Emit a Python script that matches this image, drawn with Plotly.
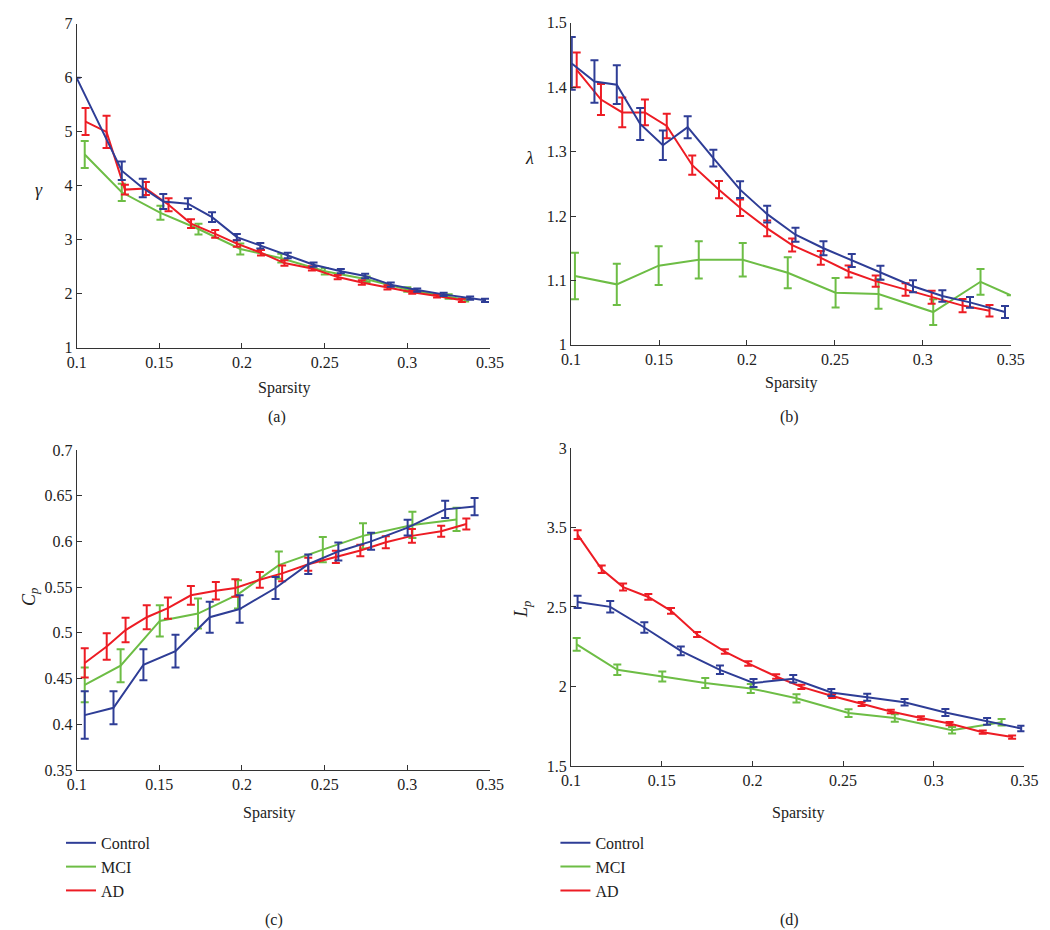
import plotly.graph_objects as go

W, H = 1050, 930
FONT = "Liberation Serif"
BLUE = "#2e3d96"
GREEN = "#6dbd45"
RED = "#ed1c24"

# ---------------- Panel (a): gamma ----------------
a_ctrl_x = [0.100, 0.1273, 0.1400, 0.1524, 0.1673, 0.1819, 0.1969, 0.2111, 0.2277, 0.2433, 0.2598, 0.2745, 0.290, 0.306, 0.322, 0.338, 0.347]
a_ctrl_y = [6.00, 4.28, 3.96, 3.71, 3.67, 3.42, 3.05, 2.89, 2.71, 2.54, 2.42, 2.33, 2.17, 2.07, 1.99, 1.92, 1.88]
a_ctrl_e = [None, 0.17, 0.17, 0.14, 0.10, 0.09, 0.06, 0.05, 0.05, 0.04, 0.04, 0.04, 0.04, 0.03, 0.03, 0.03, 0.03]
a_mci_x = [0.1049, 0.1273, 0.1507, 0.1737, 0.1990, 0.2238, 0.2501, 0.2754, 0.300, 0.325, 0.335]
a_mci_y = [4.58, 3.88, 3.50, 3.20, 2.83, 2.66, 2.42, 2.27, 2.08, 1.95, 1.89]
a_mci_e = [0.25, 0.16, 0.13, 0.10, 0.10, 0.08, 0.06, 0.05, 0.04, 0.04, 0.03]
a_ad_x = [0.1054, 0.1181, 0.1292, 0.1419, 0.1556, 0.1692, 0.1838, 0.1969, 0.2115, 0.2257, 0.2423, 0.2579, 0.2725, 0.288, 0.303, 0.318, 0.333]
a_ad_y = [5.19, 5.00, 3.93, 3.95, 3.65, 3.30, 3.11, 2.93, 2.76, 2.57, 2.47, 2.31, 2.21, 2.12, 2.03, 1.96, 1.88]
a_ad_e = [0.25, 0.30, 0.09, 0.12, 0.12, 0.08, 0.07, 0.06, 0.05, 0.05, 0.04, 0.04, 0.04, 0.04, 0.03, 0.03, 0.03]

# ---------------- Panel (b): lambda ----------------
b_ctrl_x = [0.1004, 0.1133, 0.1260, 0.1393, 0.1522, 0.1663, 0.1809, 0.1961, 0.2115, 0.2276, 0.2435, 0.2596, 0.2759, 0.2944, 0.3111, 0.3268, 0.3467]
b_ctrl_y = [1.437, 1.409, 1.404, 1.343, 1.310, 1.338, 1.290, 1.241, 1.203, 1.171, 1.150, 1.131, 1.112, 1.091, 1.076, 1.066, 1.051]
b_ctrl_e = [0.041, 0.033, 0.030, 0.025, 0.023, 0.017, 0.013, 0.013, 0.013, 0.011, 0.011, 0.010, 0.011, 0.0094, 0.009, 0.0084, 0.0094]
b_mci_x = [0.1022, 0.1260, 0.1498, 0.1726, 0.1976, 0.2232, 0.2504, 0.2748, 0.3059, 0.3328, 0.350]
b_mci_y = [1.107, 1.094, 1.123, 1.132, 1.132, 1.112, 1.081, 1.079, 1.051, 1.098, 1.077]
b_mci_e = [0.036, 0.032, 0.030, 0.029, 0.026, 0.024, 0.023, 0.023, 0.020, 0.020, None]
b_ad_x = [0.1032, 0.1170, 0.1291, 0.1420, 0.1544, 0.1689, 0.1841, 0.1961, 0.2115, 0.2257, 0.2420, 0.2578, 0.2732, 0.2902, 0.3050, 0.3226, 0.3379]
b_ad_y = [1.427, 1.381, 1.361, 1.361, 1.340, 1.279, 1.241, 1.213, 1.181, 1.155, 1.135, 1.114, 1.099, 1.086, 1.074, 1.061, 1.053]
b_ad_e = [0.027, 0.024, 0.023, 0.020, 0.019, 0.015, 0.0135, 0.0127, 0.0122, 0.0102, 0.0107, 0.0094, 0.0089, 0.0097, 0.0102, 0.0102, 0.0089]

# ---------------- Panel (c): Cp ----------------
c_ctrl_x = [0.1049, 0.1223, 0.1404, 0.1598, 0.1805, 0.1986, 0.2203, 0.2401, 0.2583, 0.2781, 0.3002, 0.3229, 0.3407]
c_ctrl_y = [0.410, 0.418, 0.465, 0.480, 0.517, 0.526, 0.549, 0.575, 0.589, 0.600, 0.615, 0.635, 0.638]
c_ctrl_e = [0.026, 0.018, 0.017, 0.018, 0.017, 0.015, 0.012, 0.0107, 0.0098, 0.0093, 0.0086, 0.0095, 0.0095]
c_mci_x = [0.1049, 0.1266, 0.1503, 0.1734, 0.1976, 0.2223, 0.2489, 0.2732, 0.3031, 0.3298]
c_mci_y = [0.443, 0.464, 0.513, 0.521, 0.542, 0.574, 0.591, 0.606, 0.618, 0.624]
c_mci_e = [0.019, 0.018, 0.017, 0.0164, 0.0155, 0.015, 0.0138, 0.0139, 0.0143, 0.0128]
c_ad_x = [0.1049, 0.1182, 0.1296, 0.1424, 0.1552, 0.1691, 0.1842, 0.1960, 0.2108, 0.2243, 0.2401, 0.2568, 0.2716, 0.2870, 0.3028, 0.3205, 0.3357]
c_ad_y = [0.467, 0.485, 0.503, 0.517, 0.527, 0.541, 0.546, 0.549, 0.558, 0.565, 0.575, 0.583, 0.590, 0.599, 0.606, 0.611, 0.619]
c_ad_e = [0.016, 0.0145, 0.0134, 0.013, 0.0116, 0.0102, 0.0095, 0.0095, 0.0086, 0.0086, 0.0071, 0.0066, 0.0062, 0.0066, 0.0075, 0.006, 0.0059]

# ---------------- Panel (d): Lp ----------------
d_ctrl_x = [0.1036, 0.1216, 0.1404, 0.1605, 0.1821, 0.2006, 0.2225, 0.2435, 0.2633, 0.2839, 0.3064, 0.3294, 0.3482]
d_ctrl_y = [2.532, 2.501, 2.371, 2.224, 2.105, 2.022, 2.049, 1.962, 1.932, 1.901, 1.837, 1.781, 1.736]
d_ctrl_e = [0.038, 0.036, 0.033, 0.027, 0.027, 0.025, 0.024, 0.022, 0.022, 0.021, 0.022, 0.021, 0.018]
d_mci_x = [0.1031, 0.1255, 0.1503, 0.1740, 0.1991, 0.2243, 0.2530, 0.2785, 0.3101, 0.3374]
d_mci_y = [2.265, 2.105, 2.063, 2.022, 1.988, 1.926, 1.833, 1.802, 1.725, 1.775]
d_mci_e = [0.040, 0.033, 0.031, 0.031, 0.028, 0.026, 0.024, 0.023, 0.021, 0.020]
d_ad_x = [0.1036, 0.1169, 0.1287, 0.1426, 0.1551, 0.1695, 0.1848, 0.1977, 0.2131, 0.2270, 0.2440, 0.2602, 0.2763, 0.2929, 0.3087, 0.3270, 0.3432]
d_ad_y = [2.955, 2.737, 2.625, 2.563, 2.476, 2.327, 2.220, 2.145, 2.063, 1.998, 1.940, 1.890, 1.843, 1.802, 1.767, 1.713, 1.682]
d_ad_e = [0.028, 0.024, 0.022, 0.018, 0.018, 0.016, 0.014, 0.014, 0.014, 0.013, 0.012, 0.012, 0.011, 0.011, 0.010, 0.010, 0.010]

# Panel (d) y tick labels exactly as printed in the figure
d_tickvals = [1.5, 2, 2.5, 3, 3.5]
d_ticktext = ["1.5", "2", "2.5", "3.5", "3"]

x_tickvals = [0.1, 0.15, 0.2, 0.25, 0.3, 0.35]

groups = ["Control", "MCI", "AD"]
colors = {"Control": BLUE, "MCI": GREEN, "AD": RED}

panels = [
    ("x", "y", {"Control": (a_ctrl_x, a_ctrl_y, a_ctrl_e), "MCI": (a_mci_x, a_mci_y, a_mci_e), "AD": (a_ad_x, a_ad_y, a_ad_e)}, None),
    ("x2", "y2", {"Control": (b_ctrl_x, b_ctrl_y, b_ctrl_e), "MCI": (b_mci_x, b_mci_y, b_mci_e), "AD": (b_ad_x, b_ad_y, b_ad_e)}, None),
    ("x3", "y3", {"Control": (c_ctrl_x, c_ctrl_y, c_ctrl_e), "MCI": (c_mci_x, c_mci_y, c_mci_e), "AD": (c_ad_x, c_ad_y, c_ad_e)}, "legend"),
    ("x4", "y4", {"Control": (d_ctrl_x, d_ctrl_y, d_ctrl_e), "MCI": (d_mci_x, d_mci_y, d_mci_e), "AD": (d_ad_x, d_ad_y, d_ad_e)}, "legend2"),
]

fig = go.Figure()
# draw order: MCI, AD, Control so blue sits on top like the original
for xa, ya, data, leg in panels:
    for g in ["MCI", "AD", "Control"]:
        xs, ys, es = data[g]
        fig.add_trace(go.Scatter(
            x=xs, y=ys, mode="lines", name=g, xaxis=xa, yaxis=ya,
            line=dict(color=colors[g], width=2),
            error_y=dict(type="data", array=es, visible=True, color=colors[g], thickness=2, width=4),
            showlegend=leg is not None, legend=leg if leg else "legend",
            legendrank={"Control": 1, "MCI": 2, "AD": 3}[g],
        ))

def px_x(p):
    return p / W

def px_y(p):
    return 1 - p / H

TICKSIZE = 16
axis_common = dict(showline=True, linecolor="#333333", linewidth=1, ticks="inside", ticklen=5,
                   tickcolor="#333333", showgrid=False, zeroline=False, mirror=False,
                   tickfont=dict(family=FONT, size=TICKSIZE, color="#222222"))

xt = dict(tickvals=x_tickvals, range=[0.1, 0.35])

leg_common = dict(xanchor="left", yanchor="top", itemwidth=30, bgcolor="rgba(0,0,0,0)",
                  font=dict(family=FONT, size=16, color="#222222"), tracegroupgap=0)

fig.update_layout(
    width=W, height=H, margin=dict(l=0, r=0, t=0, b=0),
    paper_bgcolor="white", plot_bgcolor="white",
    font=dict(family=FONT, size=16, color="#222222"),
    xaxis=dict(domain=[px_x(60), px_x(483)], anchor="y", **xt, **axis_common),
    yaxis=dict(domain=[px_y(338), px_y(8)], anchor="x", range=[1, 7], dtick=1, **axis_common),
    xaxis2=dict(domain=[px_x(566), px_x(1016)], anchor="y2", **xt, **axis_common),
    yaxis2=dict(domain=[px_y(335), px_y(7)], anchor="x2", range=[1, 1.5], dtick=0.1, **axis_common),
    xaxis3=dict(domain=[px_x(60), px_x(483)], anchor="y3", **xt, **axis_common),
    yaxis3=dict(domain=[px_y(768), px_y(442)], anchor="x3", range=[0.35, 0.7], dtick=0.05, **axis_common),
    xaxis4=dict(domain=[px_x(566), px_x(1030)], anchor="y4", **xt, **axis_common),
    yaxis4=dict(domain=[px_y(764), px_y(440)], anchor="x4", range=[1.5, 3.5],
                tickvals=d_tickvals, ticktext=d_ticktext, **axis_common),
    legend=dict(x=px_x(44), y=px_y(825), **leg_common),
    legend2=dict(x=px_x(550), y=px_y(825), **leg_common),
)

ann = []
def text(x, y, t, angle=0, size=16):
    ann.append(dict(x=px_x(x), y=px_y(y), xref="paper", yref="paper", text=t, showarrow=False,
                    textangle=angle, font=dict(family=FONT, size=size, color="#222222"),
                    xanchor="center", yanchor="middle"))

text(272, 379, "Sparsity")
text(791, 374, "Sparsity")
text(257, 812, "Sparsity")
text(798, 812, "Sparsity")
text(22, 177, "<i>γ</i>", size=18)
text(523, 145, "<i>λ</i>", size=18)
text(12, 592, "<i>C</i><sub><i>p</i></sub>", angle=-90, size=18)
text(517, 605, "<i>L</i><sub><i>p</i></sub>", angle=-90, size=18)
text(265, 408, "(a)")
text(790, 408, "(b)")
text(262, 921, "(c)")
text(790, 921, "(d)")
fig.update_layout(annotations=ann)

fig.write_html("out.html")
